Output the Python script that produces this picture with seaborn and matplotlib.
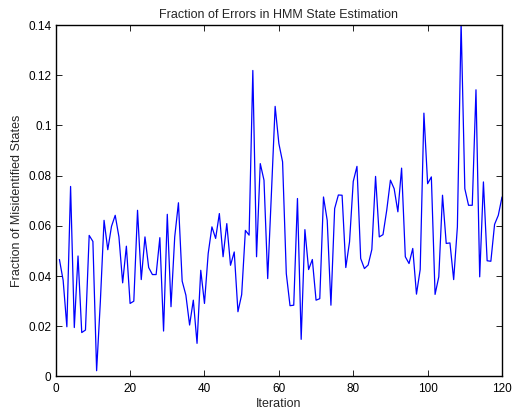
import matplotlib
matplotlib.use("Agg")
import matplotlib.pyplot as plt
import seaborn as sns
import pandas as pd

iterations = list(range(1, 121))
error_fraction = [
    0.0466, 0.0383, 0.0198, 0.0757, 0.0195, 0.0480, 0.0175, 0.0185, 0.0562, 0.0538,
    0.0023, 0.0297, 0.0622, 0.0505, 0.0598, 0.0642, 0.0556, 0.0373, 0.0519, 0.0291,
    0.0300, 0.0662, 0.0386, 0.0556, 0.0434, 0.0406, 0.0406, 0.0553, 0.0181, 0.0646,
    0.0278, 0.0556, 0.0692, 0.0380, 0.0324, 0.0205, 0.0304, 0.0132, 0.0423, 0.0291,
    0.0490, 0.0596, 0.0550, 0.0649, 0.0477, 0.0609, 0.0443, 0.0496, 0.0258, 0.0326,
    0.0582, 0.0563, 0.1219, 0.0477, 0.0848, 0.0782, 0.0390, 0.0730, 0.1076, 0.0928,
    0.0855, 0.0410, 0.0282, 0.0284, 0.0709, 0.0148, 0.0585, 0.0426, 0.0466, 0.0304,
    0.0310, 0.0715, 0.0622, 0.0284, 0.0669, 0.0723, 0.0722, 0.0434, 0.0536, 0.0777,
    0.0837, 0.0470, 0.0430, 0.0444, 0.0506, 0.0797, 0.0556, 0.0565, 0.0662, 0.0782,
    0.0748, 0.0656, 0.0830, 0.0477, 0.0450, 0.0510, 0.0328, 0.0426, 0.1049, 0.0768,
    0.0795, 0.0327, 0.0397, 0.0722, 0.0530, 0.0532, 0.0386, 0.0596, 0.1410, 0.0748,
    0.0682, 0.0682, 0.1142, 0.0397, 0.0775, 0.0461, 0.0459, 0.0606, 0.0642, 0.0715,
]
x_ticks = [0, 20, 40, 60, 80, 100, 120]
y_ticks = [0, 0.02, 0.04, 0.06, 0.08, 0.1, 0.12, 0.14]
y_tick_labels = ["0", "0.02", "0.04", "0.06", "0.08", "0.1", "0.12", "0.14"]

df = pd.DataFrame({"Iteration": iterations, "Fraction": error_fraction})

sns.set_style("white")
plt.rcParams["font.family"] = ["Liberation Sans", "DejaVu Sans"]
plt.rcParams["xtick.direction"] = "in"
plt.rcParams["ytick.direction"] = "in"

fig = plt.figure(figsize=(5.12, 4.13), dpi=100)
ax = fig.add_axes([0.1088, 0.0884, 0.8717, 0.851])
sns.lineplot(data=df, x="Iteration", y="Fraction", ax=ax, color="#0000ff",
             linewidth=0.9)

ax.set_xlim(0, 120)
ax.set_ylim(0, 0.14)
ax.set_xticks(x_ticks)
ax.set_xticklabels([str(t) for t in x_ticks])
ax.set_yticks(y_ticks)
ax.set_yticklabels(y_tick_labels)
ax.tick_params(axis="both", which="both", direction="in", length=4, width=0.6,
               top=True, right=True, bottom=True, left=True, labelsize=8.5,
               colors="black")
ax.tick_params(axis="x", pad=4.5)
ax.tick_params(axis="y", pad=3)
for s in ax.spines.values():
    s.set_visible(True)
    s.set_color("black")
    s.set_linewidth(1.0)

ax.set_xlabel("Iteration", fontsize=9, labelpad=2.5)
ax.set_ylabel("Fraction of Misidentified States", fontsize=9, labelpad=4)
ax.set_title("Fraction of Errors in HMM State Estimation", fontsize=9, pad=5)

fig.savefig("out.png", dpi=100, facecolor="white")
